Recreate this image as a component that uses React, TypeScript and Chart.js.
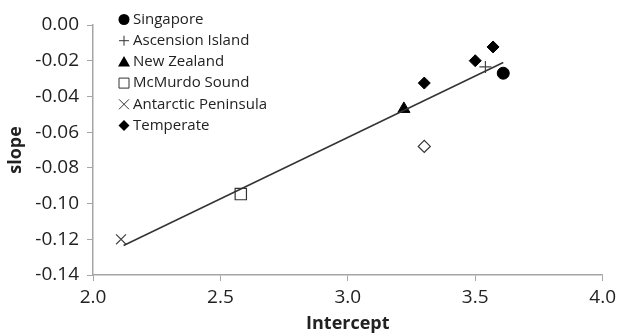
import React, { useEffect, useRef } from "react";
import { Chart, registerables } from "chart.js";

Chart.register(...registerables);

const singaporeX = [3.61];
const singaporeY = [-0.027];
const ascensionX = [3.54];
const ascensionY = [-0.0235];
const newZealandX = [3.22];
const newZealandY = [-0.047];
const mcmurdoX = [2.58];
const mcmurdoY = [-0.0947];
const antarcticX = [2.11];
const antarcticY = [-0.12];
const temperateX = [3.3, 3.5, 3.57];
const temperateY = [-0.0325, -0.02, -0.0123];
const openDiamondX = [3.3];
const openDiamondY = [-0.068];
const trendX = [2.12, 3.61];
const trendY = [-0.1235, -0.021];

const legendLabels = [
  "Singapore",
  "Ascension Island",
  "New Zealand",
  "McMurdo Sound",
  "Antarctic Peninsula",
  "Temperate",
];

const FONT = "'Open Sans', 'DejaVu Sans', sans-serif";
const pts = (xs: number[], ys: number[]) => xs.map((x, i) => ({ x, y: ys[i] }));

function drawMarker(ctx: CanvasRenderingContext2D, kind: string, x: number, y: number) {
  ctx.save();
  ctx.beginPath();
  ctx.fillStyle = "#000";
  ctx.strokeStyle = "#000";
  ctx.lineWidth = 1;
  if (kind === "circle") {
    ctx.arc(x, y, 5.5, 0, Math.PI * 2);
    ctx.fill();
  } else if (kind === "plus") {
    ctx.strokeStyle = "#333";
    ctx.moveTo(x - 5, y);
    ctx.lineTo(x + 5, y);
    ctx.moveTo(x, y - 5);
    ctx.lineTo(x, y + 5);
    ctx.stroke();
  } else if (kind === "triangle") {
    ctx.moveTo(x, y - 6);
    ctx.lineTo(x + 6, y + 4.5);
    ctx.lineTo(x - 6, y + 4.5);
    ctx.closePath();
    ctx.fill();
  } else if (kind === "square") {
    ctx.strokeStyle = "#333";
    ctx.rect(x - 5, y - 5, 10, 10);
    ctx.stroke();
  } else if (kind === "x") {
    ctx.strokeStyle = "#333";
    ctx.moveTo(x - 5, y - 5);
    ctx.lineTo(x + 5, y + 5);
    ctx.moveTo(x + 5, y - 5);
    ctx.lineTo(x - 5, y + 5);
    ctx.stroke();
  } else if (kind === "diamond") {
    ctx.moveTo(x, y - 5.5);
    ctx.lineTo(x + 5.5, y);
    ctx.lineTo(x, y + 5.5);
    ctx.lineTo(x - 5.5, y);
    ctx.closePath();
    ctx.fill();
  }
  ctx.restore();
}

const legendKinds = ["circle", "plus", "triangle", "square", "x", "diamond"];

const legendPlugin = {
  id: "customLegend",
  afterDraw(chart: any) {
    const ctx = chart.ctx as CanvasRenderingContext2D;
    ctx.save();
    ctx.font = `15px ${FONT}`;
    ctx.fillStyle = "#222";
    ctx.textBaseline = "middle";
    legendLabels.forEach((label, i) => {
      const y = 19.5 + i * 21.2;
      drawMarker(ctx, legendKinds[i], 124, y);
      ctx.fillText(label, 133, y);
    });
    ctx.restore();
  },
};

export default function App() {
  const ref = useRef<HTMLCanvasElement | null>(null);
  useEffect(() => {
    document.body.style.margin = "0";
    const canvas = ref.current!;
    const chart = new Chart(canvas, {
      type: "scatter",
      data: {
        datasets: [
          {
            type: "line",
            label: "trend",
            data: pts(trendX, trendY),
            borderColor: "#333",
            borderWidth: 1.5,
            pointRadius: 0,
            showLine: true,
            fill: false,
          } as any,
          {
            label: legendLabels[0],
            data: pts(singaporeX, singaporeY),
            pointStyle: "circle",
            pointRadius: 6,
            backgroundColor: "#000",
            borderColor: "#000",
          },
          {
            label: legendLabels[1],
            data: pts(ascensionX, ascensionY),
            pointStyle: "cross",
            pointRadius: 6,
            borderColor: "#444",
            borderWidth: 1.2,
          },
          {
            label: legendLabels[2],
            data: pts(newZealandX, newZealandY),
            pointStyle: "triangle",
            pointRadius: 7,
            backgroundColor: "#000",
            borderColor: "#000",
          },
          {
            label: legendLabels[3],
            data: pts(mcmurdoX, mcmurdoY),
            pointStyle: "rect",
            pointRadius: 8,
            backgroundColor: "#fff",
            borderColor: "#333",
            borderWidth: 1.2,
          },
          {
            label: legendLabels[4],
            data: pts(antarcticX, antarcticY),
            pointStyle: "crossRot",
            pointRadius: 7,
            borderColor: "#444",
            borderWidth: 1.2,
          },
          {
            label: legendLabels[5],
            data: pts(temperateX, temperateY),
            pointStyle: "rectRot",
            pointRadius: 6,
            backgroundColor: "#000",
            borderColor: "#000",
          },
          {
            label: "open",
            data: pts(openDiamondX, openDiamondY),
            pointStyle: "rectRot",
            pointRadius: 6,
            backgroundColor: "#fff",
            borderColor: "#333",
            borderWidth: 1.2,
          },
        ],
      },
      options: {
        animation: false,
        responsive: false,
        maintainAspectRatio: false,
        layout: { padding: { top: 25, right: 16, left: 0, bottom: 0 } },
        plugins: {
          legend: { display: false },
          tooltip: { enabled: false },
        },
        scales: {
          x: {
            type: "linear",
            min: 2,
            max: 4,
            ticks: {
              stepSize: 0.5,
              callback: (v: any) => Number(v).toFixed(1),
              font: { family: FONT, size: 19 },
              color: "#222",
              padding: 5,
            },
            grid: {
              drawOnChartArea: false,
              drawTicks: true,
              tickLength: 6,
              color: "#a6a6a6",
            },
            border: { display: true, color: "#a6a6a6", width: 1.5 },
            title: {
              display: true,
              text: "Intercept",
              font: { family: FONT, size: 18, weight: "bold" },
              color: "#222",
              padding: { top: 0, bottom: 0 },
            },
            afterFit: (s: any) => {
              s.height = 60;
            },
          },
          y: {
            type: "linear",
            min: -0.14,
            max: 0,
            ticks: {
              stepSize: 0.02,
              callback: (v: any) => Number(v).toFixed(2),
              font: { family: FONT, size: 19 },
              color: "#222",
              padding: 8,
            },
            grid: {
              drawOnChartArea: false,
              drawTicks: true,
              tickLength: 6,
              color: "#a6a6a6",
            },
            border: { display: true, color: "#a6a6a6", width: 1.5 },
            title: {
              display: true,
              text: "slope",
              font: { family: FONT, size: 18, weight: "bold" },
              color: "#222",
              padding: { top: 5, bottom: 0 },
            },
            afterFit: (s: any) => {
              s.width = 93;
            },
          },
        },
      },
      plugins: [legendPlugin],
    });
    return () => chart.destroy();
  }, []);
  return (
    <div style={{ width: 621, height: 335 }}>
      <canvas ref={ref} width={621} height={335} style={{ display: "block" }} />
    </div>
  );
}
